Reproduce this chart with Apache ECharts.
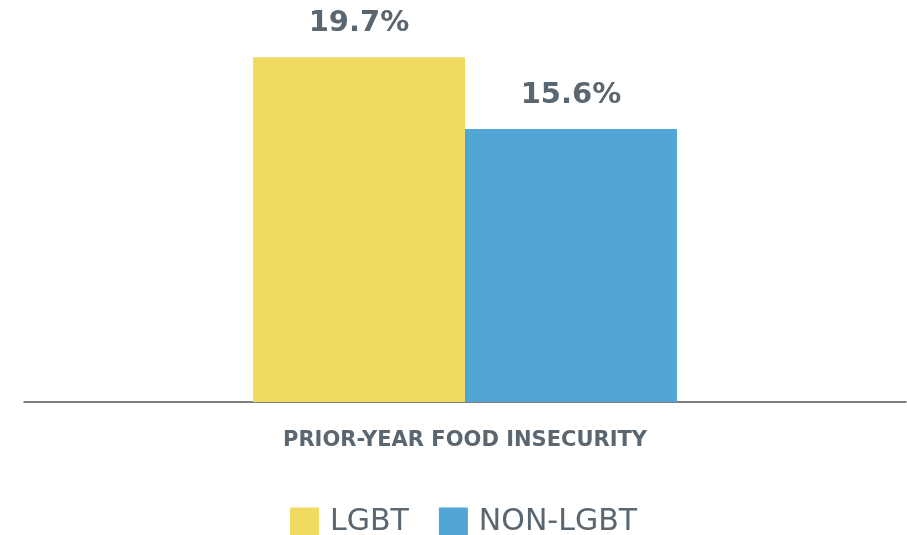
<!DOCTYPE html>
<html>
<head>
    <meta charset="utf-8"/>
    <script src="https://cdn.jsdelivr.net/npm/echarts@6/dist/echarts.min.js"></script>
    <style>
        html, body { margin: 0; padding: 0; background: #fff; }
        #container { width: 907px; height: 535px; }
    </style>
</head>
<body>
<div id="container"></div>
<script type="text/javascript">
    var categories = ['PRIOR-YEAR FOOD INSECURITY'];
    var seriesNames = ['LGBT', 'NON-LGBT'];
    var lgbtValues = [19.7];
    var nonLgbtValues = [15.6];
    var colors = ['#F0DA62', '#52A6D6'];
    var textColor = '#5A6670';
    var font = 'DejaVu Sans';

    var dom = document.getElementById("container");
    var myChart = echarts.init(dom);

    function makeSeries(name, data, color) {
        return {
            name: name,
            type: 'bar',
            data: data,
            barWidth: 212,
            barGap: '0%',
            itemStyle: { color: color },
            label: {
                show: true,
                position: 'top',
                distance: 19,
                formatter: '{c}%',
                fontFamily: font,
                fontWeight: 'bold',
                fontSize: 29,
                color: textColor
            }
        };
    }

    var option = {
        animation: false,
        grid: { left: 24, right: 1, top: 52, bottom: 133 },
        legend: {
            data: seriesNames,
            left: 290,
            top: 507,
            padding: 0,
            itemWidth: 29,
            itemHeight: 29,
            itemGap: 30,
            icon: 'rect',
            textStyle: {
                fontFamily: font,
                fontSize: 30,
                color: textColor,
                padding: [0, 0, 0, 6]
            }
        },
        xAxis: {
            type: 'category',
            data: categories,
            axisTick: { show: false },
            axisLine: { lineStyle: { color: '#555', width: 1.5 } },
            axisLabel: {
                margin: 28,
                fontFamily: font,
                fontWeight: 'bold',
                fontSize: 21,
                color: textColor
            }
        },
        yAxis: {
            type: 'value',
            min: 0,
            max: 20,
            show: false,
            splitLine: { show: false }
        },
        series: [
            makeSeries(seriesNames[0], lgbtValues, colors[0]),
            makeSeries(seriesNames[1], nonLgbtValues, colors[1])
        ]
    };

    myChart.setOption(option, true);
</script>
</body>
</html>
